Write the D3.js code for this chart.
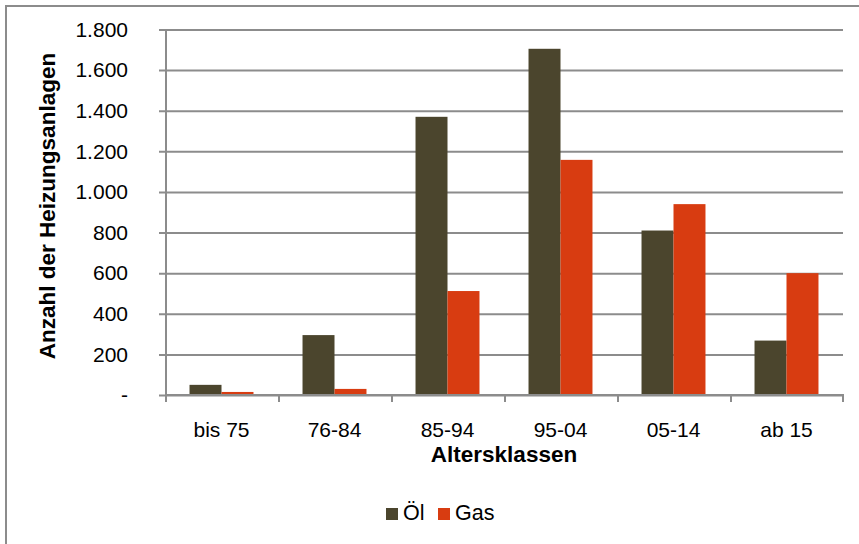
<!DOCTYPE html>
<html>
<head>
<meta charset="utf-8">
<script src="https://cdn.jsdelivr.net/npm/d3@7"></script>
<style>
  body { margin: 0; background: #fff; }
  svg { display: block; font-family: "Liberation Sans", Arial, sans-serif; }
</style>
</head>
<body>
<svg id="chart" width="859" height="544"></svg>
<script>
let categories = ["bis 75", "76-84", "85-94", "95-04", "05-14", "ab 15"]
let series = ["Öl", "Gas"]
let oel = [50, 295, 1370, 1705, 810, 268]
let gas = [15, 30, 512, 1158, 940, 600]
let yTicks = [0, 200, 400, 600, 800, 1000, 1200, 1400, 1600, 1800]
let colors = { "Öl": "#4b452d", "Gas": "#d83c11" }

let rows = categories.map((c, i) => ({ cat: c, "Öl": oel[i], "Gas": gas[i] }))

let svg = d3.select("#chart")
let grid = "#8c8c8c"

// outer frame (cut off at right and bottom like the original)
svg.append("rect")
  .attr("x", 6).attr("y", 6)
  .attr("width", 900).attr("height", 600)
  .attr("fill", "none")
  .attr("stroke", grid)
  .attr("stroke-width", 2)

let x = d3.scaleBand().domain(categories).range([165, 843])
  .paddingInner(0.434).paddingOuter(0.217)
let xs = d3.scaleBand().domain(series).range([0, x.bandwidth()])
let y = d3.scaleLinear().domain([0, 1800]).range([395, 29.5])

let fmt = v => v === 0 ? "-" : d3.format(",")(v).replace(/,/g, ".")

// gridlines + y axis
let yAxis = svg.append("g")
  .attr("transform", "translate(165,0)")
  .call(d3.axisLeft(y).tickValues(yTicks).tickSize(-678).tickSizeOuter(0).tickPadding(37).tickFormat(fmt))
yAxis.select(".domain").remove()
yAxis.selectAll(".tick line")
  .attr("x1", -6)
  .attr("stroke", grid).attr("stroke-width", 2)
yAxis.selectAll(".tick text")
  .attr("font-size", 21).attr("fill", "#000")
  .attr("font-family", "Liberation Sans, Arial, sans-serif")
svg.append("line")
  .attr("x1", 166).attr("x2", 166)
  .attr("y1", 29.5).attr("y2", 396)
  .attr("stroke", grid).attr("stroke-width", 2)

// bars
svg.append("g").selectAll("g")
  .data(rows).enter()
  .append("g")
  .attr("transform", d => `translate(${x(d.cat)},0)`)
  .selectAll("rect")
  .data(d => series.map(s => ({ s: s, v: d[s] })))
  .enter().append("rect")
  .attr("x", d => xs(d.s))
  .attr("width", xs.bandwidth())
  .attr("y", d => y(d.v))
  .attr("height", d => y(0) - y(d.v))
  .attr("fill", d => colors[d.s])

// x axis
let xAxis = svg.append("g")
  .attr("transform", "translate(0,395)")
  .call(d3.axisBottom(x).tickSize(0).tickPadding(27))
xAxis.select(".domain").attr("stroke", grid).attr("stroke-width", 2)
  .attr("d", "M165,0H844")
xAxis.selectAll(".tick text")
  .attr("font-size", 21).attr("fill", "#000")
  .attr("font-family", "Liberation Sans, Arial, sans-serif")
svg.append("g").selectAll("line")
  .data(d3.range(categories.length + 1)).enter()
  .append("line")
  .attr("x1", i => 166 + i * x.step() - (i == categories.length ? 1 : 0))
  .attr("x2", i => 166 + i * x.step() - (i == categories.length ? 1 : 0))
  .attr("y1", 395).attr("y2", 402)
  .attr("stroke", grid).attr("stroke-width", 2)

// axis titles
svg.append("text")
  .attr("x", 504).attr("y", 462)
  .attr("text-anchor", "middle")
  .attr("font-size", 22.5).attr("font-weight", "bold")
  .text("Altersklassen")

svg.append("text")
  .attr("transform", "translate(55,206) rotate(-90)")
  .attr("text-anchor", "middle")
  .attr("font-size", 22.5).attr("font-weight", "bold")
  .text("Anzahl der Heizungsanlagen")

// legend
let legendX = [386, 438]
let legend = svg.append("g").selectAll("g")
  .data(series).enter()
  .append("g")
  .attr("transform", (d, i) => `translate(${legendX[i]},508)`)
legend.append("rect")
  .attr("width", 12).attr("height", 12)
  .attr("fill", d => colors[d])
legend.append("text")
  .attr("x", 17).attr("y", 12)
  .attr("font-size", 21.5)
  .text(d => d)
</script>
</body>
</html>
